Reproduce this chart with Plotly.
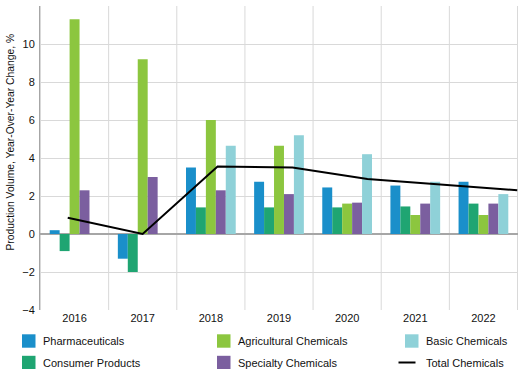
import plotly.graph_objects as go

years = ["2016", "2017", "2018", "2019", "2020", "2021", "2022"]
pharmaceuticals = [0.2, -1.3, 3.5, 2.75, 2.45, 2.55, 2.75]
consumer_products = [-0.9, -2.0, 1.4, 1.4, 1.4, 1.45, 1.6]
agricultural = [11.3, 9.2, 6.0, 4.65, 1.6, 1.0, 1.0]
specialty = [2.3, 3.0, 2.3, 2.1, 1.65, 1.6, 1.6]
basic = [None, None, 4.65, 5.2, 4.2, 2.75, 2.1]
total = [0.85, 0.0, 3.55, 3.5, 2.9, 2.6, 2.3]
y_ticks = [-4, -2, 0, 2, 4, 6, 8, 10, 12]

FONT = "Liberation Sans, Arial, sans-serif"
W, H = 520, 369
ML, MR, MT, MB = 40, 2, 6, 59
PW, PH = W - ML - MR, H - MT - MB

def px_x(p):
    return (p - ML) / PW

def px_y(p):
    return (H - MB - p) / PH

series = [
    ("Pharmaceuticals", pharmaceuticals, "#1a8fca"),
    ("Consumer Products", consumer_products, "#1fa572"),
    ("Agricultural Chemicals", agricultural, "#8cc63f"),
    ("Specialty Chemicals", specialty, "#7b5f9f"),
    ("Basic Chemicals", basic, "#8fd1d8"),
]

fig = go.Figure()
for name, vals, color in series:
    fig.add_trace(go.Bar(
        x=years, y=vals, name=name, marker_color=color,
        marker_line_width=0, showlegend=False,
    ))

fig.add_trace(go.Scatter(
    x=years, y=total, name="Total Chemicals", mode="lines",
    line=dict(color="black", width=2), xaxis="x2", showlegend=False,
))

fig.update_layout(
    width=W, height=H,
    margin=dict(l=ML, r=MR, t=MT, b=MB),
    paper_bgcolor="white", plot_bgcolor="white",
    font=dict(family=FONT, size=11, color="#111111"),
    barmode="group", bargap=0.27, bargroupgap=0,
    showlegend=False,
    xaxis=dict(
        type="category", categoryorder="array", categoryarray=years,
        showgrid=False, showline=False, ticks="",
        tickfont=dict(size=11),
    ),
    xaxis2=dict(
        type="category", categoryorder="array", categoryarray=years,
        overlaying="x", range=[-0.37, 6.01], visible=False,
    ),
    yaxis=dict(
        range=[-4, 12], tickvals=y_ticks, showgrid=True, gridcolor="#d9d9d9",
        gridwidth=1, zeroline=True, zerolinecolor="#a6a6a6", zerolinewidth=1.5,
        showline=True, linecolor="#a6a6a6", linewidth=1, ticks="",
        tickfont=dict(size=11), ticklabelstandoff=2,
    ),
)

# y-axis title
fig.add_annotation(
    text="Production Volume, Year-Over-Year Change, %", textangle=-90,
    xref="paper", yref="paper", x=px_x(10), y=px_y(142.5),
    xanchor="center", yanchor="middle", showarrow=False,
    font=dict(size=10.3),
)

# vertical separators between year categories
for i in range(len(years) + 1):
    fig.add_shape(type="line", xref="x", yref="paper",
                  x0=i - 0.5, x1=i - 0.5, y0=0, y1=1,
                  line=dict(color="#d9d9d9", width=1), layer="below")

# legend (manual, three columns x two rows)
legend_items = [
    ("Pharmaceuticals", "#1a8fca", "box", 22, 341),
    ("Consumer Products", "#1fa572", "box", 22, 362.5),
    ("Agricultural Chemicals", "#8cc63f", "box", 217, 341),
    ("Specialty Chemicals", "#7b5f9f", "box", 217, 362.5),
    ("Basic Chemicals", "#8fd1d8", "box", 405, 341),
    ("Total Chemicals", "black", "line", 405, 362.5),
]
for label, color, kind, sx, cy in legend_items:
    if kind == "box":
        fig.add_shape(type="rect", xref="paper", yref="paper",
                      x0=px_x(sx), x1=px_x(sx + 13.5),
                      y0=px_y(cy - 6.7), y1=px_y(cy + 6.7),
                      fillcolor=color, line=dict(width=0))
    else:
        fig.add_shape(type="line", xref="paper", yref="paper",
                      x0=px_x(sx - 6.5), x1=px_x(sx + 10.5),
                      y0=px_y(cy), y1=px_y(cy),
                      line=dict(color=color, width=2))
    fig.add_annotation(text=label, xref="paper", yref="paper",
                       x=px_x(sx + 18.5), y=px_y(cy),
                       xanchor="left", yanchor="middle", showarrow=False,
                       font=dict(size=11))

fig.write_html(
    "out.html",
    config={"displayModeBar": False},
    post_script="document.body.style.margin='0';document.body.style.overflow='hidden';",
)
